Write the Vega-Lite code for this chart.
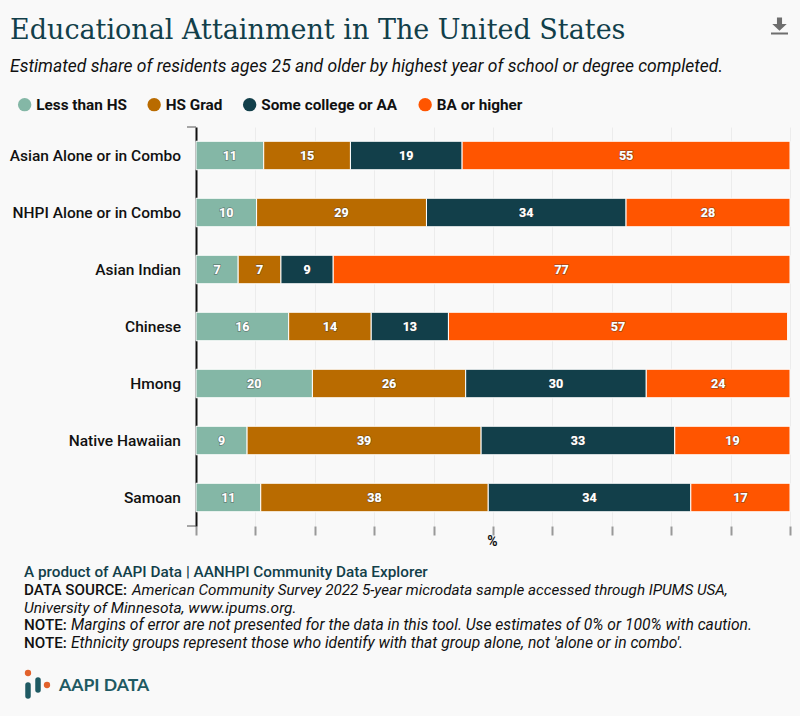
{
"$schema":"https://vega.github.io/schema/vega-lite/v6.json",
"width":594,"height":399,
"autosize":{"type":"none"},
"padding":{"left":196,"top":127,"right":10,"bottom":190},
"background":"#f9f9f9",
"title":{"text":"Educational Attainment in The United States","subtitle":"Estimated share of residents ages 25 and older by highest year of school or degree completed.","anchor":"start","frame":"group","dx":-186,"offset":-59,"font":"DejaVu Serif","fontSize":27,"fontWeight":"normal","color":"#123f4a","subtitleFont":"Roboto","subtitleFontSize":17.5,"subtitleFontStyle":"italic","subtitleColor":"#111111","subtitlePadding":13},
"config":{"view":{"stroke":null},"font":"Roboto"},
"data":{"values":[
{"group":"Asian Alone or in Combo","level":"Less than HS","rank":1,"share":11.4},
{"group":"Asian Alone or in Combo","level":"HS Grad","rank":2,"share":14.6},
{"group":"Asian Alone or in Combo","level":"Some college or AA","rank":3,"share":18.8},
{"group":"Asian Alone or in Combo","level":"BA or higher","rank":4,"share":55.2},
{"group":"NHPI Alone or in Combo","level":"Less than HS","rank":1,"share":10.2},
{"group":"NHPI Alone or in Combo","level":"HS Grad","rank":2,"share":28.6},
{"group":"NHPI Alone or in Combo","level":"Some college or AA","rank":3,"share":33.6},
{"group":"NHPI Alone or in Combo","level":"BA or higher","rank":4,"share":27.6},
{"group":"Asian Indian","level":"Less than HS","rank":1,"share":7.1},
{"group":"Asian Indian","level":"HS Grad","rank":2,"share":7.2},
{"group":"Asian Indian","level":"Some college or AA","rank":3,"share":8.8},
{"group":"Asian Indian","level":"BA or higher","rank":4,"share":76.9},
{"group":"Chinese","level":"Less than HS","rank":1,"share":15.6},
{"group":"Chinese","level":"HS Grad","rank":2,"share":13.9},
{"group":"Chinese","level":"Some college or AA","rank":3,"share":13.0},
{"group":"Chinese","level":"BA or higher","rank":4,"share":57.1},
{"group":"Hmong","level":"Less than HS","rank":1,"share":19.6},
{"group":"Hmong","level":"HS Grad","rank":2,"share":25.8},
{"group":"Hmong","level":"Some college or AA","rank":3,"share":30.4},
{"group":"Hmong","level":"BA or higher","rank":4,"share":24.2},
{"group":"Native Hawaiian","level":"Less than HS","rank":1,"share":8.6},
{"group":"Native Hawaiian","level":"HS Grad","rank":2,"share":39.4},
{"group":"Native Hawaiian","level":"Some college or AA","rank":3,"share":32.6},
{"group":"Native Hawaiian","level":"BA or higher","rank":4,"share":19.4},
{"group":"Samoan","level":"Less than HS","rank":1,"share":10.9},
{"group":"Samoan","level":"HS Grad","rank":2,"share":38.3},
{"group":"Samoan","level":"Some college or AA","rank":3,"share":34.1},
{"group":"Samoan","level":"BA or higher","rank":4,"share":16.7}
]},
"encoding":{
"y":{"field":"group","type":"nominal","sort":null,"scale":{"paddingInner":0.5,"paddingOuter":0.25},"axis":{"title":null,"ticks":false,"domainColor":"#111111","domainWidth":2,"labelFont":"Roboto","labelFontSize":15.5,"labelFontWeight":500,"labelColor":"#111111","labelPadding":15.5}},
"x":{"field":"share","type":"quantitative","stack":"zero","scale":{"domain":[0,100],"nice":false},"axis":{"values":[0,10,20,30,40,50,60,70,80,90,100],"labels":false,"title":"%","titleFont":"Roboto","titleFontSize":14,"titleFontWeight":"bold","titleColor":"#111111","titlePadding":0,"titleY":8,"titleX":296,"domain":false,"grid":true,"gridColor":"#ececec","tickColor":"#999999","tickWidth":2,"tickSize":9}},
"order":{"field":"rank","type":"ordinal"}
},
"layer":[
{"mark":{"type":"bar","stroke":"#ffffff","strokeWidth":1},
 "encoding":{"color":{"field":"level","type":"nominal","sort":null,"scale":{"domain":["Less than HS","HS Grad","Some college or AA","BA or higher"],"range":["#84b7a6","#b96b00","#123f4a","#ff5500"]},"legend":{"title":null,"orient":"none","legendX":-179,"legendY":-30,"direction":"horizontal","columns":4,"gridAlign":"none","columnPadding":19.5,"symbolType":"circle","symbolSize":180,"symbolStrokeWidth":0,"labelFont":"Roboto","labelFontSize":15.3,"labelFontWeight":"bold","labelColor":"#111111","labelOffset":4}}}},
{"mark":{"type":"text","font":"Roboto","fontSize":12.5,"fontWeight":"bold","fill":"#ffffff","stroke":"#333333","strokeWidth":1.5,"strokeOpacity":0.45,"baseline":"middle"},
 "encoding":{"x":{"field":"share","type":"quantitative","stack":"zero","bandPosition":0.5},"text":{"field":"share","type":"quantitative","format":".0f"}}},
{"mark":{"type":"text","font":"Roboto","fontSize":12.5,"fontWeight":"bold","fill":"#ffffff","baseline":"middle"},
 "encoding":{"x":{"field":"share","type":"quantitative","stack":"zero","bandPosition":0.5},"text":{"field":"share","type":"quantitative","format":".0f"}}},
{"data":{"values":[{}]},"mark":{"type":"rule","stroke":"#555555"},"encoding":{"x":{"value":-9},"x2":{"value":0},"y":{"value":0},"y2":{"value":0},"order":null}},
{"data":{"values":[{}]},"mark":{"type":"rule","stroke":"#555555"},"encoding":{"x":{"value":-9},"x2":{"value":0},"y":{"value":399},"y2":{"value":399},"order":null}},
{"data":{"values":[{}]},"mark":{"type":"point","shape":"M-0.3,-1 H0.3 V-0.25 H0.85 L0,0.55 L-0.85,-0.25 H-0.3 Z M-1,0.75 H1 V1 H-1 Z","size":289,"filled":true,"fill":"#6e6e6e","stroke":null,"opacity":1,"x":583.5,"y":-101},"encoding":{"x":null,"y":null,"order":null}},
{"data":{"values":[{}]},"mark":{"type":"text","text":"A product of AAPI Data | AANHPI Community Data Explorer","x":-172,"y":445,"align":"left","baseline":"middle","font":"Roboto","fontSize":15.3,"fontWeight":500,"fill":"#123f4a"},"encoding":{"x":null,"y":null,"order":null}},
{"data":{"values":[{}]},"mark":{"type":"text","text":"DATA SOURCE:","x":-172,"y":463,"align":"left","baseline":"middle","font":"Roboto","fontSize":15.2,"fontWeight":500,"fill":"#111111"},"encoding":{"x":null,"y":null,"order":null}},
{"data":{"values":[{}]},"mark":{"type":"text","text":"American Community Survey 2022 5-year microdata sample accessed through IPUMS USA,","x":-64,"y":463,"align":"left","baseline":"middle","font":"Roboto","fontSize":15.2,"fontStyle":"italic","fill":"#111111"},"encoding":{"x":null,"y":null,"order":null}},
{"data":{"values":[{}]},"mark":{"type":"text","text":"University of Minnesota, www.ipums.org.","x":-172,"y":480.5,"align":"left","baseline":"middle","font":"Roboto","fontSize":15.5,"fontStyle":"italic","fill":"#111111"},"encoding":{"x":null,"y":null,"order":null}},
{"data":{"values":[{}]},"mark":{"type":"text","text":"NOTE:","x":-172,"y":498,"align":"left","baseline":"middle","font":"Roboto","fontSize":15.2,"fontWeight":500,"fill":"#111111"},"encoding":{"x":null,"y":null,"order":null}},
{"data":{"values":[{}]},"mark":{"type":"text","text":"Margins of error are not presented for the data in this tool. Use estimates of 0% or 100% with caution.","x":-125,"y":498,"align":"left","baseline":"middle","font":"Roboto","fontSize":15.65,"fontStyle":"italic","fill":"#111111"},"encoding":{"x":null,"y":null,"order":null}},
{"data":{"values":[{}]},"mark":{"type":"text","text":"NOTE:","x":-172,"y":515.5,"align":"left","baseline":"middle","font":"Roboto","fontSize":15.2,"fontWeight":500,"fill":"#111111"},"encoding":{"x":null,"y":null,"order":null}},
{"data":{"values":[{}]},"mark":{"type":"text","text":"Ethnicity groups represent those who identify with that group alone, not 'alone or in combo'.","x":-125,"y":515.5,"align":"left","baseline":"middle","font":"Roboto","fontSize":15.65,"fontStyle":"italic","fill":"#111111"},"encoding":{"x":null,"y":null,"order":null}},
{"data":{"values":[{}]},"mark":{"type":"text","text":"AAPI DATA","x":-137,"y":558.5,"align":"left","baseline":"middle","font":"Lato","fontSize":17.6,"fontWeight":"bold","fill":"#1f5a63"},"encoding":{"x":null,"y":null,"order":null}},
{"data":{"values":[{}]},"mark":{"type":"rule","stroke":"#1f5a63","strokeWidth":5.5,"strokeCap":"round"},"encoding":{"x":{"value":-168},"y":{"value":558},"y2":{"value":569},"order":null}},
{"data":{"values":[{}]},"mark":{"type":"rule","stroke":"#1f5a63","strokeWidth":5.5,"strokeCap":"round"},"encoding":{"x":{"value":-158},"y":{"value":553},"y2":{"value":563},"order":null}},
{"data":{"values":[{}]},"mark":{"type":"point","shape":"circle","size":40,"filled":true,"fill":"#e2622b","stroke":null,"opacity":1,"x":-168,"y":546},"encoding":{"x":null,"y":null,"order":null}},
{"data":{"values":[{}]},"mark":{"type":"point","shape":"circle","size":40,"filled":true,"fill":"#e2622b","stroke":null,"opacity":1,"x":-149,"y":558},"encoding":{"x":null,"y":null,"order":null}}
]
}
